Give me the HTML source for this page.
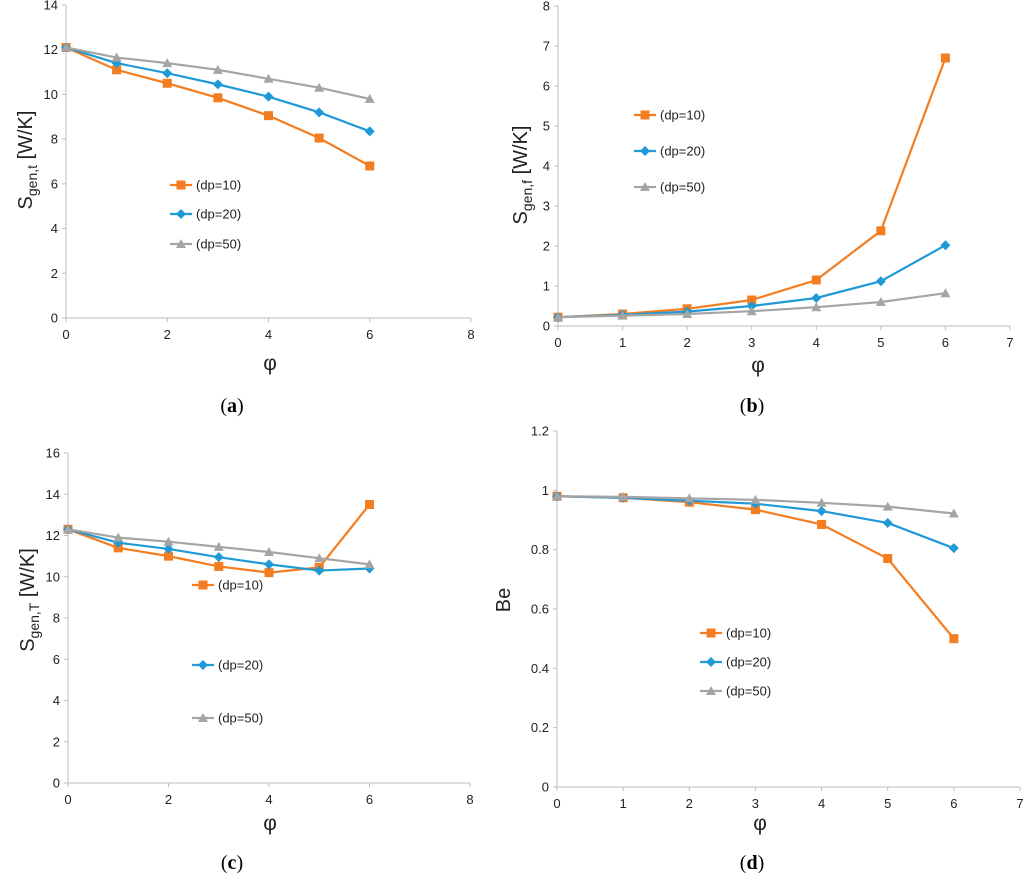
<!DOCTYPE html>
<html><head><meta charset="utf-8"><style>
body{margin:0;background:#fff;width:1024px;height:873px;overflow:hidden}
svg{display:block;font-family:"Liberation Sans",sans-serif}
</style></head><body>
<svg id="s" width="1024" height="873"></svg>
<script>
const phiVals=[0,1,2,3,4,5,6];
const seriesNames=["(dp=10)","(dp=20)","(dp=50)"];
const aDp10=[12.1,11.1,10.5,9.85,9.05,8.05,6.8];
const aDp20=[12.1,11.4,10.95,10.45,9.9,9.2,8.35];
const aDp50=[12.1,11.65,11.4,11.1,10.7,10.3,9.8];
const bDp10=[0.22,0.3,0.43,0.65,1.15,2.38,6.7];
const bDp20=[0.22,0.28,0.36,0.5,0.7,1.12,2.02];
const bDp50=[0.22,0.26,0.3,0.37,0.47,0.6,0.82];
const cDp10=[12.3,11.4,11.0,10.5,10.2,10.45,13.5];
const cDp20=[12.3,11.65,11.35,10.95,10.6,10.3,10.4];
const cDp50=[12.3,11.9,11.7,11.45,11.2,10.9,10.6];
const dDp10=[0.98,0.975,0.96,0.935,0.885,0.77,0.5];
const dDp20=[0.98,0.975,0.965,0.955,0.93,0.89,0.805];
const dDp50=[0.98,0.978,0.973,0.968,0.958,0.945,0.922];
const aYTicks=[0,2,4,6,8,10,12,14], aXTicks=[0,2,4,6,8];
const bYTicks=[0,1,2,3,4,5,6,7,8], bXTicks=[0,1,2,3,4,5,6,7];
const cYTicks=[0,2,4,6,8,10,12,14,16], cXTicks=[0,2,4,6,8];
const dYTicks=[0,0.2,0.4,0.6,0.8,1,1.2], dXTicks=[0,1,2,3,4,5,6,7];
const colors=["#f47d20","#1f9ad6","#a5a5a5"];
const NS="http://www.w3.org/2000/svg";
const svg=document.getElementById('s');
function el(tag,attrs,parent,text){const e=document.createElementNS(NS,tag);for(const k in attrs)e.setAttribute(k,attrs[k]);if(text!==undefined)e.textContent=text;(parent||svg).appendChild(e);return e;}
function chart(id,cfg){
  const g=el('g',{});
  
  
  const ymax=cfg.yt[cfg.yt.length-1], xmax=cfg.xt[cfg.xt.length-1];
  const X=v=>cfg.x0+(cfg.x1-cfg.x0)*v/xmax;
  const Y=v=>cfg.y0-(cfg.y0-cfg.y1)*v/ymax;
  const ax=el('line',{x1:cfg.x0,y1:cfg.y1,x2:cfg.x0,y2:cfg.y0,stroke:'#bcbcbc','stroke-width':1},g);
  
  const bx=el('line',{x1:cfg.x0,y1:cfg.y0,x2:cfg.x1,y2:cfg.y0,stroke:'#bcbcbc','stroke-width':1},g);
  
  cfg.yt.forEach(t=>{el('line',{x1:cfg.x0-4,x2:cfg.x0,y1:Y(t),y2:Y(t),stroke:'#bcbcbc'},g);
    const tx=el('text',{x:cfg.x0-8,y:Y(t)+4.5,'text-anchor':'end','font-size':13,fill:'#222'},g,String(t));
    });
  cfg.xt.forEach(t=>{el('line',{x1:X(t),x2:X(t),y1:cfg.y0,y2:cfg.y0+4,stroke:'#bcbcbc'},g);
    const tx=el('text',{x:X(t),y:cfg.y0+21,'text-anchor':'middle','font-size':13,fill:'#222'},g,String(t));
    });
  cfg.series.forEach((s,i)=>{
    const sg=el('g',{},g);
    
    
    el('polyline',{points:phiVals.map((p,j)=>X(p)+','+Y(s[j])).join(' '),fill:'none',stroke:colors[i],'stroke-width':2.2},sg);
    phiVals.forEach((p,j)=>marker(sg,i,X(p),Y(s[j])));
    const ly=cfg.leg[1][i];
    el('line',{x1:cfg.leg[0],x2:cfg.leg[0]+22,y1:ly,y2:ly,stroke:colors[i],'stroke-width':2.2},sg);
    marker(sg,i,cfg.leg[0]+11,ly);
    const lt=el('text',{x:cfg.leg[0]+26,y:ly+4.5,'font-size':13,fill:'#222'},sg,seriesNames[i]);
    
  });
  const yt=el('text',{transform:`translate(${cfg.yl[0]},${cfg.yl[1]}) rotate(-90)`,'text-anchor':'middle','font-size':20,fill:'#222'},g);
  
  if(cfg.sub){el('tspan',{},yt,'S');el('tspan',{'font-size':14,dy:5},yt,cfg.sub);el('tspan',{dy:-5},yt,' [W/K]');}
  else yt.textContent='Be';
  const xt=el('text',{x:cfg.xl[0],y:cfg.xl[1],'text-anchor':'middle','font-size':21,fill:'#222'},g,'φ');
  
  const cp=el('text',{x:cfg.cap[0],y:cfg.cap[1],'text-anchor':'middle','font-size':20,'font-family':'Liberation Serif, serif',fill:'#000'},g);
  
  el('tspan',{},cp,'(');el('tspan',{'font-weight':'bold'},cp,id);el('tspan',{},cp,')');
}
function marker(g,i,x,y){
  if(i===0)el('rect',{x:x-4.5,y:y-4.5,width:9,height:9,fill:colors[0]},g);
  else if(i===1)el('polygon',{points:`${x},${y-5} ${x+5},${y} ${x},${y+5} ${x-5},${y}`,fill:colors[1]},g);
  else el('polygon',{points:`${x},${y-5} ${x+5},${y+4} ${x-5},${y+4}`,fill:colors[2]},g);
}
chart('a',{x0:66,x1:471,y0:318,y1:5,yt:aYTicks,xt:aXTicks,series:[aDp10,aDp20,aDp50],leg:[170,[185,214,244]],yl:[32,160],sub:'gen,t',xl:[270,370],cap:[232,412]});
chart('b',{x0:558,x1:1010,y0:326,y1:6,yt:bYTicks,xt:bXTicks,series:[bDp10,bDp20,bDp50],leg:[634,[115,151,187]],yl:[527,175],sub:'gen,f',xl:[758,372],cap:[752,412]});
chart('c',{x0:68,x1:470,y0:783,y1:453,yt:cYTicks,xt:cXTicks,series:[cDp10,cDp20,cDp50],leg:[192,[585,665,718]],yl:[34,600],sub:'gen,T',xl:[270,830],cap:[232,869]});
chart('d',{x0:557,x1:1020,y0:787,y1:431,yt:dYTicks,xt:dXTicks,series:[dDp10,dDp20,dDp50],leg:[700,[633,662,691]],yl:[510,600],sub:null,xl:[760,830],cap:[752,869]});
</script>
</body></html>
